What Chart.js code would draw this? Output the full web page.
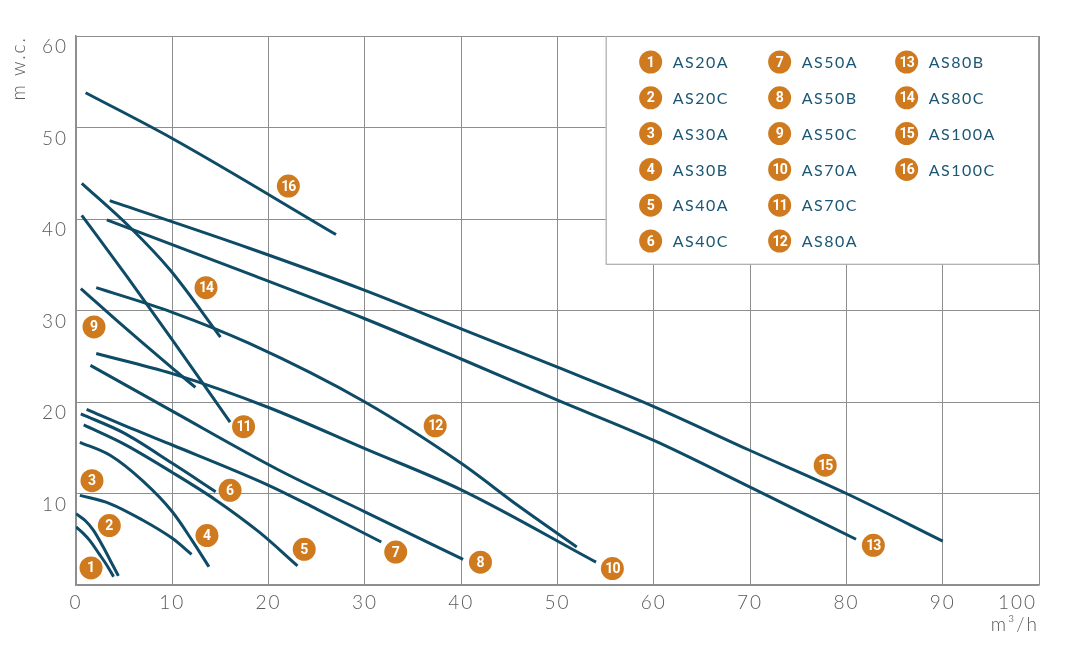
<!DOCTYPE html>
<html>
<head>
<meta charset="utf-8">
<script src="https://cdn.jsdelivr.net/npm/chart.js@4.4.1/dist/chart.umd.min.js"></script>
<style>
  html, body { margin: 0; padding: 0; background: #fff; }
  #wrap { width: 1080px; height: 666px; }
</style>
</head>
<body>
<div id="wrap"><canvas id="pumpChart" width="1080" height="666"></canvas></div>
<script>
// pump models (legend order)
const models = ['AS20A', 'AS20C', 'AS30A', 'AS30B', 'AS40A', 'AS40C', 'AS50A', 'AS50B',
  'AS50C', 'AS70A', 'AS70C', 'AS80A', 'AS80B', 'AS80C', 'AS100A', 'AS100C'];

// flow (m3/h) per curve
const curveFlow = [
  [0, 1, 1.8, 2.8, 3.6, 4.4],
  [0, 0.7, 1.4, 2.4, 3.3, 3.9],
  [0.4, 3.5, 6.9, 10, 12],
  [0.4, 3.5, 6.9, 10, 12.1, 13.8],
  [0.8, 5, 10, 14.5, 19, 23],
  [0.5, 5, 10, 14.5],
  [1.1, 6, 10, 20, 25, 31.7],
  [1.5, 10, 21, 30, 40.2],
  [0.5, 5, 10, 12.4],
  [2.1, 10, 20, 30, 40, 54],
  [0.6, 5.3, 10, 16],
  [2.1, 10, 18, 30, 40, 46, 52],
  [3.2, 18, 30, 40, 50, 60, 70, 81],
  [0.6, 5.6, 9.8, 15],
  [3.5, 18, 30, 40, 50, 60, 70, 80, 90],
  [1, 10, 27]
];

// head (m w.c.) per curve
const curveHead = [
  [7.8, 7.0, 6.0, 4.2, 2.6, 1.0],
  [6.35, 5.7, 4.9, 3.4, 2.0, 0.9],
  [9.8, 8.9, 7.1, 5.1, 3.35],
  [15.6, 14.2, 11.4, 8.0, 4.8, 2.0],
  [17.5, 15.4, 12.3, 9.3, 5.8, 2.1],
  [18.7, 16.6, 13.3, 10.2],
  [19.2, 17, 15.3, 10.9, 8.3, 4.7],
  [24, 19, 12.6, 8, 2.8],
  [32.4, 28.2, 23.7, 21.6],
  [25.3, 23.1, 19.4, 14.9, 10.4, 2.5],
  [40.4, 33.7, 26.8, 17.8],
  [32.5, 29.8, 26.4, 20, 13.3, 8.6, 4.15],
  [39.9, 34, 29.1, 24.7, 20.2, 15.8, 10.7, 5.0],
  [43.9, 39.1, 34.4, 27.1],
  [42, 36.8, 32.2, 28, 23.8, 19.5, 14.7, 10, 4.8],
  [53.8, 48.8, 38.3]
];

// where the numbered badge of each curve sits (flow, head)
const badgeFlow = [1.56, 3.46, 1.66, 13.6, 23.7, 16.0, 33.2, 42, 1.87, 55.7, 17.4, 37.3, 82.8, 13.5, 77.8, 22.05];
const badgeHead = [1.86, 6.5, 11.4, 5.4, 3.9, 10.35, 3.6, 2.5, 28.2, 1.8, 17.3, 17.4, 4.34, 32.5, 13.1, 43.6];

const xTicks = [0, 10, 20, 30, 40, 50, 60, 70, 80, 90, 100];
const yTicks = [0, 10, 20, 30, 40, 50, 60];

const lineColor = '#0e4b66';
const badgeColor = '#cf7a1e';
const textColor = '#1b5775';
const tickColor = '#5a5a5a';
const gridColor = '#8e8e8e';

function drawBadge(ctx, x, y, num) {
  ctx.save();
  ctx.beginPath();
  ctx.arc(x, y, 11.5, 0, Math.PI * 2);
  ctx.fillStyle = badgeColor;
  ctx.fill();
  ctx.fillStyle = '#fff';
  ctx.font = 'bold 14px Roboto';
  ctx.letterSpacing = num > 9 ? '-1px' : '0px';
  ctx.textAlign = 'center';
  ctx.textBaseline = 'middle';
  ctx.fillText(String(num), x, y + 1);
  ctx.restore();
}

// wider letters for ticks and axis titles
const wideText = {
  id: 'wideText',
  beforeDraw(chart) {
    chart.ctx.letterSpacing = '2px';
  }
};

// numbers inside the badges on the plot
const badgeNumbers = {
  id: 'badgeNumbers',
  afterDatasetsDraw(chart) {
    const { ctx, scales } = chart;
    badgeFlow.forEach((f, i) => {
      drawBadge(ctx, scales.x.getPixelForValue(f), scales.y.getPixelForValue(badgeHead[i]), i + 1);
    });
  }
};

// legend box in the top right corner
const modelLegend = {
  id: 'modelLegend',
  beforeDatasetsDraw(chart) {
    const { ctx, scales } = chart;
    const left = scales.x.getPixelForValue(55);
    const right = scales.x.getPixelForValue(100);
    const top = scales.y.getPixelForValue(60);
    const bottom = scales.y.getPixelForValue(35);
    ctx.save();
    ctx.fillStyle = '#fff';
    ctx.fillRect(left, top, right - left, bottom - top);
    ctx.strokeStyle = '#999';
    ctx.lineWidth = 1;
    ctx.strokeRect(left + 0.5, top + 0.5, right - left - 1, bottom - top - 1);
    ctx.restore();

    const colX = [45, 174, 301];
    models.forEach((name, i) => {
      const col = Math.floor(i / 6);
      const row = i % 6;
      const cx = left + colX[col];
      const cy = top + 26 + row * 35.8;
      drawBadge(ctx, cx, cy, i + 1);
      ctx.save();
      ctx.fillStyle = textColor;
      ctx.font = '16px Lato';
      ctx.letterSpacing = '1.5px';
      ctx.textAlign = 'left';
      ctx.textBaseline = 'middle';
      ctx.fillText(name, cx + 22, cy + 1);
      ctx.restore();
    });
  }
};

const datasets = models.map((name, i) => ({
  label: name,
  data: curveFlow[i].map((f, j) => ({ x: f, y: curveHead[i][j] })),
  showLine: true,
  borderColor: lineColor,
  borderWidth: 3,
  pointRadius: 0,
  cubicInterpolationMode: 'monotone',
  fill: false
}));

datasets.push({
  label: 'badges',
  data: badgeFlow.map((f, i) => ({ x: f, y: badgeHead[i] })),
  showLine: false,
  pointRadius: 0
});

const tickFont = { family: 'Lato', size: 19, weight: '300' };

const ctx = document.getElementById('pumpChart').getContext('2d');
const pumpChart = new Chart(ctx, {
  type: 'scatter',
  data: { datasets: datasets },
  options: {
    responsive: false,
    animation: false,
    devicePixelRatio: 1,
    layout: { padding: { top: 36, right: 41, bottom: 0, left: 0 } },
    plugins: {
      legend: { display: false },
      tooltip: { enabled: false }
    },
    scales: {
      x: {
        type: 'linear',
        min: 0,
        max: 100,
        afterBuildTicks(scale) { scale.ticks = xTicks.map(v => ({ value: v })); },
        afterFit(scale) { scale.height = 81; },
        grid: { color: gridColor, drawTicks: false },
        border: { color: gridColor, width: 1.5 },
        ticks: {
          color: tickColor,
          font: tickFont,
          padding: 6,
          maxRotation: 0,
          callback: function(value) { return value === 100 ? '100      ' : value; }
        },
        title: {
          display: true,
          text: 'm³/h',
          align: 'end',
          color: tickColor,
          font: tickFont,
          padding: { top: 0, bottom: 30 }
        }
      },
      y: {
        type: 'linear',
        min: 0,
        max: 60,
        afterBuildTicks(scale) { scale.ticks = yTicks.map(v => ({ value: v })); },
        afterFit(scale) { scale.width = 76; },
        grid: { color: gridColor, drawTicks: false },
        border: { color: gridColor, width: 1.5 },
        ticks: {
          color: tickColor,
          font: tickFont,
          padding: 8,
          labelOffset: 11,
          callback: function(value) { return value === 0 ? '' : value; }
        },
        title: {
          display: true,
          text: 'm w.c.',
          align: 'end',
          color: tickColor,
          font: tickFont,
          padding: { top: 7, bottom: 2 }
        }
      }
    }
  },
  plugins: [wideText, modelLegend, badgeNumbers]
});
</script>
</body>
</html>
